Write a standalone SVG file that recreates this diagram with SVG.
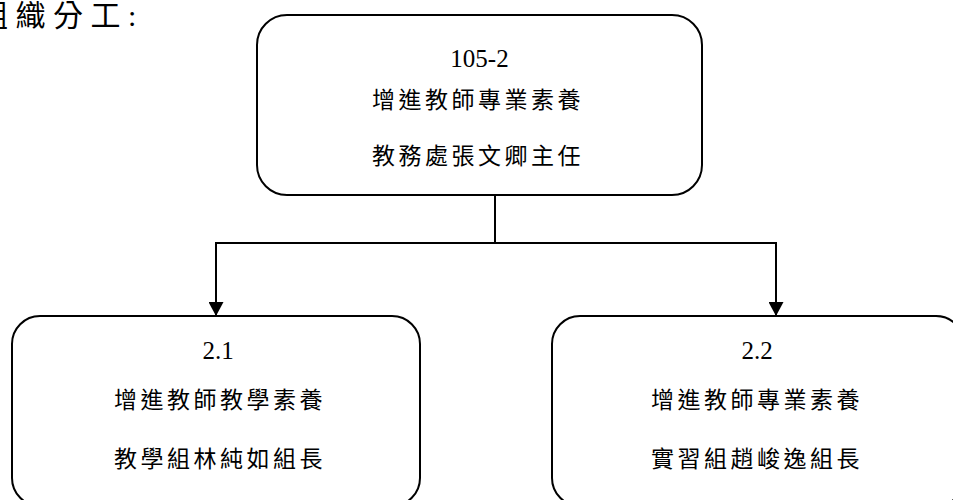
<svg xmlns="http://www.w3.org/2000/svg" width="953" height="500" viewBox="0 0 953 500">
  <style>
    .box { fill: #ffffff; stroke: #000000; stroke-width: 2; }
    .num { font-family: "Liberation Serif", "Times New Roman", serif; font-size: 25px; fill: #000; text-anchor: middle; }
    .cjk { font-family: "Liberation Serif", "Noto Sans CJK TC", serif; font-size: 23px; letter-spacing: 3.5px; fill: #000; }
    .title { font-family: "Liberation Serif", "Noto Sans CJK TC", serif; font-size: 30px; letter-spacing: 7.5px; fill: #000; }
    .conn { fill: none; stroke: #000000; stroke-width: 2; }
  </style>
  <defs>
    <marker id="arrow" markerUnits="userSpaceOnUse" markerWidth="16" markerHeight="15" refX="14" refY="7.5" orient="auto">
      <path d="M0,0 L14,7.5 L0,15 Z" fill="#000000"/>
    </marker>
  </defs>
  <rect width="953" height="500" fill="#ffffff"/>

  <text id="heading" class="title" x="-22" y="26">組織分工:</text>

  <g id="connectors">
    <line class="conn" x1="495" y1="196" x2="495" y2="243" stroke-width="1.5"/>
    <line class="conn" x1="215" y1="243" x2="777" y2="243"/>
    <line class="conn" x1="216" y1="242" x2="216" y2="316" marker-end="url(#arrow)"/>
    <line class="conn" x1="776" y1="242" x2="776" y2="316" marker-end="url(#arrow)"/>
  </g>

  <g id="node-top">
    <rect class="box" x="257" y="15" width="445" height="180" rx="30" ry="30"/>
    <text class="num" x="479.5" y="67">105-2</text>
    <text class="cjk" x="372" y="108">增進教師專業素養</text>
    <text class="cjk" x="372" y="164">教務處張文卿主任</text>
  </g>

  <g id="node-left">
    <rect class="box" x="12" y="316" width="408" height="190" rx="28" ry="28"/>
    <text class="num" x="218" y="359">2.1</text>
    <text class="cjk" x="114" y="408">增進教師教學素養</text>
    <text class="cjk" x="114" y="467">教學組林純如組長</text>
  </g>

  <g id="node-right">
    <rect class="box" x="552" y="316" width="412" height="190" rx="28" ry="28"/>
    <text class="num" x="757" y="359">2.2</text>
    <text class="cjk" x="651" y="408">增進教師專業素養</text>
    <text class="cjk" x="651" y="467">實習組趙峻逸組長</text>
  </g>
</svg>
